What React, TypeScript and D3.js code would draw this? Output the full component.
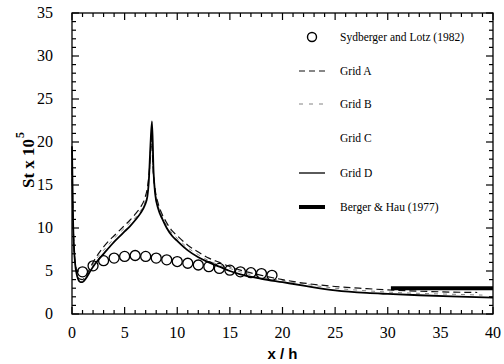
import React, { useEffect, useRef } from "react";
import * as d3 from "d3";

// Sydberger and Lotz (1982) measurements
const expX = [1, 2, 3, 4, 5, 6, 7, 8, 9, 10, 11, 12, 13, 14, 15, 16, 17, 18, 19];
const expY = [4.9, 5.6, 6.2, 6.5, 6.7, 6.8, 6.7, 6.5, 6.3, 6.1, 5.9, 5.7, 5.5, 5.3, 5.1, 4.9, 4.8, 4.7, 4.5];

// Grid A (dashed)
const gridAX = [0, 0.1, 0.2, 0.35, 0.5, 0.7, 1.0, 1.3, 1.7, 2, 2.5, 3, 3.5, 4, 4.5, 5, 5.5, 6, 6.5, 6.9, 7.2, 7.4, 7.55, 7.7, 7.9, 8.2, 8.6, 9, 9.5, 10, 11, 12, 13, 14, 15, 16, 18, 20, 22, 25, 28, 30, 33, 36, 38.5];
const gridAY = [17, 11, 7.5, 5.6, 4.6, 4.1, 4.0, 4.4, 5.3, 6.0, 7.0, 7.8, 8.5, 9.1, 9.7, 10.3, 10.9, 11.6, 12.4, 13.4, 15, 17.5, 20.5, 17, 14.5, 12.8, 11.5, 10.6, 9.7, 9.1, 8.0, 7.2, 6.5, 6.0, 5.5, 5.1, 4.5, 4.0, 3.6, 3.2, 2.95, 2.8, 2.65, 2.55, 2.5];

// Grid B (fine dashes)
const gridBX = [0, 0.1, 0.2, 0.35, 0.5, 0.7, 1.0, 1.3, 1.7, 2, 2.5, 3, 3.5, 4, 4.5, 5, 5.5, 6, 6.5, 6.9, 7.2, 7.4, 7.55, 7.7, 7.9, 8.2, 8.6, 9, 9.5, 10, 11, 12, 13, 14, 15, 16, 18, 20, 22, 25, 28, 30, 33, 36, 39];
const gridBY = [18, 11.5, 7.4, 5.5, 4.4, 3.9, 3.8, 4.2, 5.1, 5.8, 6.7, 7.4, 8.1, 8.8, 9.4, 10.0, 10.6, 11.2, 12.0, 12.9, 14.5, 17, 21, 16.5, 14.2, 12.5, 11.2, 10.3, 9.4, 8.8, 7.7, 6.9, 6.2, 5.7, 5.3, 4.9, 4.3, 3.9, 3.5, 3.0, 2.7, 2.55, 2.4, 2.3, 2.2];

// Grid D (solid)
const gridDX = [0, 0.05, 0.1, 0.2, 0.3, 0.45, 0.6, 0.8, 1.0, 1.3, 1.7, 2, 2.5, 3, 3.5, 4, 4.5, 5, 5.5, 6, 6.5, 6.9, 7.15, 7.3, 7.45, 7.6, 7.75, 7.9, 8.2, 8.6, 9, 9.5, 10, 11, 12, 13, 14, 15, 16, 18, 20, 22, 25, 28, 30, 33, 36, 40];
const gridDY = [19.5, 15, 11, 7.5, 5.8, 4.6, 4.0, 3.7, 3.7, 4.1, 4.9, 5.5, 6.3, 7.0, 7.7, 8.4, 9.0, 9.6, 10.2, 10.9, 11.7, 12.6, 13.6, 15.5, 19.5, 22.4, 16.5, 14.0, 12.2, 11.0, 10.0, 9.1, 8.5, 7.4, 6.6, 6.0, 5.5, 5.0, 4.6, 4.1, 3.7, 3.3, 2.75, 2.45, 2.33, 2.18, 2.05, 1.9];

// Berger & Hau (1977)
const bergerX = [30.3, 40];
const bergerY = [3.0, 3.0];

const legendLabels = ["Sydberger and Lotz (1982)", "Grid A", "Grid B", "Grid C", "Grid D", "Berger & Hau (1977)"];

const xTicks = [0, 5, 10, 15, 20, 25, 30, 35, 40];
const yTicks = [0, 5, 10, 15, 20, 25, 30, 35];

const left = 72, right = 493, top = 13, bottom = 314;
const x = d3.scaleLinear().domain([0, 40]).range([left, right]);
const y = d3.scaleLinear().domain([0, 35]).range([bottom, top]);

const App = () => {
  const svgRef = useRef<SVGGElement>(null);

  useEffect(() => {
    const svg = d3.select(svgRef.current);
    svg.selectAll("*").remove();

    const serif = "'Liberation Serif', 'DejaVu Serif', serif";
    const sans = "'Liberation Sans', Arial, sans-serif";

    // tick labels
    svg.append("g").selectAll("text").data(xTicks).enter().append("text")
      .attr("x", d => x(d)).attr("y", 338)
      .attr("text-anchor", "middle")
      .style("font-family", serif).style("font-size", "16px")
      .text(d => d);
    svg.append("g").selectAll("text").data(yTicks).enter().append("text")
      .attr("x", 53).attr("y", d => y(d) + 5)
      .attr("text-anchor", "end")
      .style("font-family", serif).style("font-size", "16px")
      .text(d => d);

    // axis titles
    svg.append("text")
      .attr("x", (left + right) / 2).attr("y", 359)
      .attr("text-anchor", "middle")
      .style("font-family", sans).style("font-size", "15px").style("font-weight", "bold")
      .text("x / h");
    const yt = svg.append("text")
      .attr("transform", "translate(34, 160) rotate(-90)")
      .attr("text-anchor", "middle")
      .style("font-family", serif).style("font-size", "17px").style("font-weight", "bold");
    yt.append("tspan").text("St x 10");
    yt.append("tspan").attr("dx", 1).attr("dy", -10).style("font-size", "12px").text("5");

    const line = d3.line<[number, number]>()
      .x(d => x(d[0])).y(d => y(d[1]))
      .curve(d3.curveMonotoneX);
    const pts = (xs: number[], ys: number[]) => xs.map((v, i) => [v, ys[i]] as [number, number]);

    svg.append("path").attr("d", line(pts(gridBX, gridBY)))
      .attr("fill", "none").attr("stroke", "#777").attr("stroke-width", 0.9)
      .attr("stroke-dasharray", "4,5");
    svg.append("path").attr("d", line(pts(gridAX, gridAY)))
      .attr("fill", "none").attr("stroke", "#111").attr("stroke-width", 1.2)
      .attr("stroke-dasharray", "7,4");
    svg.append("path").attr("d", line(pts(gridDX, gridDY)))
      .attr("fill", "none").attr("stroke", "#000").attr("stroke-width", 1.8);
    svg.append("path").attr("d", line(pts(bergerX, bergerY)))
      .attr("fill", "none").attr("stroke", "#000").attr("stroke-width", 4);

    svg.append("g").selectAll("circle").data(pts(expX, expY)).enter().append("circle")
      .attr("cx", d => x(d[0])).attr("cy", d => y(d[1])).attr("r", 5)
      .attr("fill", "none").attr("stroke", "#000").attr("stroke-width", 1.3);

    // legend
    const lg = svg.append("g");
    const rowY = [37, 71, 104, 138, 173, 207];
    const sx1 = 299, sx2 = 325;
    legendLabels.forEach((lab, i) => {
      lg.append("text").attr("x", 340).attr("y", rowY[i] + 4)
        .style("font-family", serif).style("font-size", "11.5px")
        .text(lab);
    });
    lg.append("circle").attr("cx", 312).attr("cy", rowY[0]).attr("r", 4.5)
      .attr("fill", "none").attr("stroke", "#000").attr("stroke-width", 1.4);
    lg.append("line").attr("x1", sx1).attr("x2", sx2).attr("y1", rowY[1]).attr("y2", rowY[1])
      .attr("stroke", "#111").attr("stroke-width", 1.2).attr("stroke-dasharray", "6,4");
    lg.append("line").attr("x1", sx1).attr("x2", sx2).attr("y1", rowY[2]).attr("y2", rowY[2])
      .attr("stroke", "#777").attr("stroke-width", 0.9).attr("stroke-dasharray", "4,6");
    lg.append("line").attr("x1", sx1).attr("x2", sx2).attr("y1", rowY[4]).attr("y2", rowY[4])
      .attr("stroke", "#000").attr("stroke-width", 1.3);
    lg.append("line").attr("x1", sx1).attr("x2", sx2).attr("y1", rowY[5]).attr("y2", rowY[5])
      .attr("stroke", "#000").attr("stroke-width", 4);
  }, []);

  // inward ticks on all four sides, every 1 unit, longer every 5
  const xMinor = d3.range(0, 41, 1);
  const yMinor = d3.range(0, 36, 1);

  return (
    <svg width={504} height={364}
      style={{ position: "absolute", left: 0, top: 0, background: "#fff" }}>
      <rect x={left} y={top} width={right - left} height={bottom - top}
        fill="none" stroke="#000" strokeWidth={1.3} />
      <g stroke="#000" strokeWidth={1.2}>
        {xMinor.map(v => {
          const len = v % 5 === 0 ? 7 : 4;
          return (
            <g key={"x" + v}>
              <line x1={x(v)} x2={x(v)} y1={bottom} y2={bottom - len} />
              <line x1={x(v)} x2={x(v)} y1={top} y2={top + len} />
            </g>
          );
        })}
        {yMinor.map(v => {
          const len = v % 5 === 0 ? 7 : 4;
          return (
            <g key={"y" + v}>
              <line x1={left} x2={left + len} y1={y(v)} y2={y(v)} />
              <line x1={right} x2={right - len} y1={y(v)} y2={y(v)} />
            </g>
          );
        })}
      </g>
      <g ref={svgRef} />
    </svg>
  );
};

export default App;
